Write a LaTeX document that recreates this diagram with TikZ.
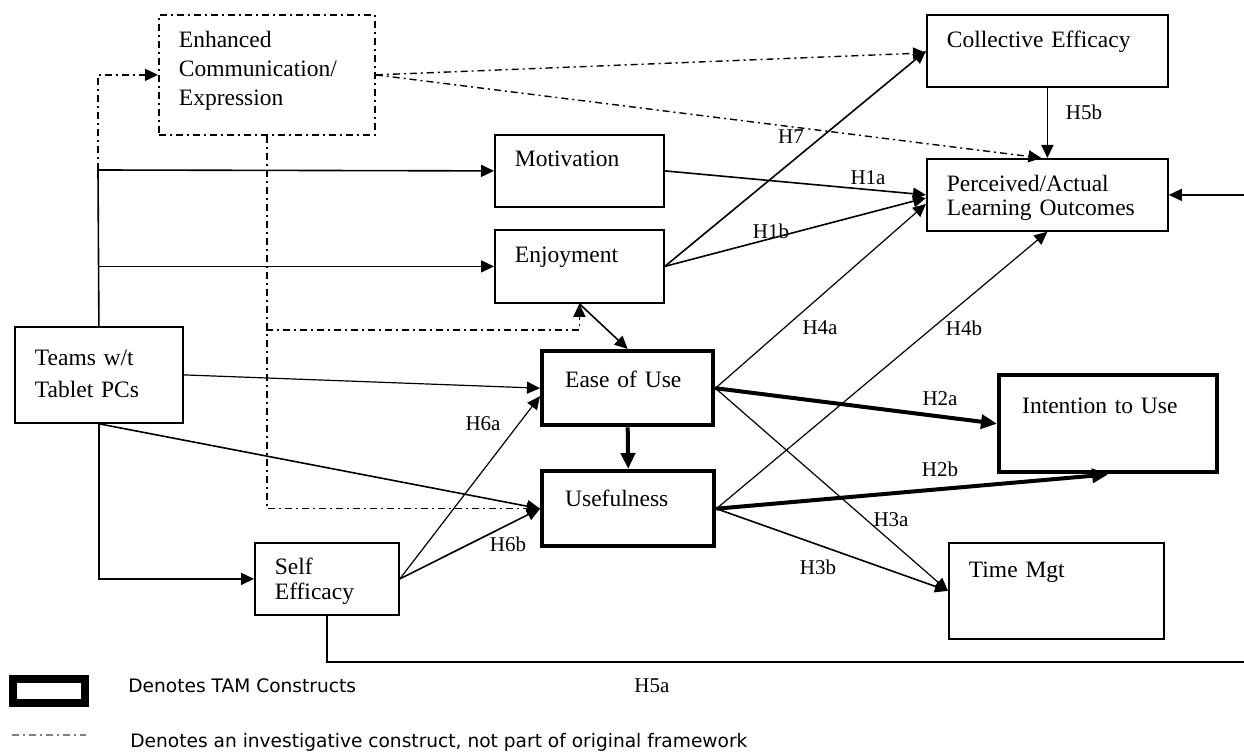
\documentclass[tikz,border=0pt]{standalone}
\usepackage{fontspec}
\setmainfont{Liberation Serif}
\newfontfamily\legfont{DejaVu Sans}
\usetikzlibrary{arrows.meta}
\tikzset{
  blk/.style={draw, line width=0.9pt, rectangle, anchor=north west, inner xsep=10pt, inner ysep=0pt, align=left, font=\fontsize{11.75}{14}\selectfont},
  tam/.style={blk, line width=2.2pt, inner xsep=11.5pt},
  inv/.style={blk, dash pattern=on 3.5pt off 2pt on 1pt off 2pt},
  hyp/.style={font=\fontsize{10.5}{12}\selectfont, inner sep=0pt},
  leg/.style={font=\legfont\fontsize{9.3}{11}\selectfont, inner sep=0pt, anchor=base west},
  tip/.style={-{Triangle[length=6.5pt,width=6pt]}},
  arr/.style={line width=0.8pt, tip},
  lean/.style={line width=0.6pt, tip},
  fat/.style={line width=2pt, -{Triangle[length=8pt,width=7pt]}},
  dd/.style={line width=0.7pt, dash pattern=on 3.5pt off 2pt on 1pt off 2pt},
}
\begin{document}
\begin{tikzpicture}[x=0.5pt, y=-0.5pt]
\useasboundingbox (0,0) rectangle (1244,753);
\node[inv, text width=88pt, text height=16.5pt, text depth=43.5pt, font=\fontsize{11.75}{14.5}\selectfont] (enh) at (158,14) {Enhanced\\Communication/\\Expression};
\node[blk, text width=100.5pt, text height=16.5pt, text depth=19.5pt] (col) at (926,14) {Collective Efficacy};
\node[blk, text width=100.5pt, text height=16.5pt, text depth=19.5pt, font=\fontsize{11.75}{12}\selectfont] (per) at (926,158) {Perceived/Actual\\Learning Outcomes};
\node[blk, text width=64.5pt, text height=16pt, text depth=20pt] (mot) at (494,134) {Motivation};
\node[blk, text width=64.5pt, text height=16.5pt, text depth=20pt] (enj) at (494,229) {Enjoyment};
\node[blk, text width=64pt, text height=19.5pt, text depth=28.5pt, font=\fontsize{11.75}{16}\selectfont] (teams) at (14,326) {Teams w/t\\Tablet PCs};
\node[tam, text width=62.5pt, text height=18pt, text depth=19pt] (ease) at (540,349) {Ease of Use};
\node[tam, text width=63pt, text height=17.5pt, text depth=20pt] (use) at (540,469) {Usefulness};
\node[tam, text width=86pt, text height=19pt, text depth=29.5pt] (int) at (997,373) {Intention to Use};
\node[blk, text width=52pt, text height=16pt, text depth=20pt, font=\fontsize{11.75}{12.5}\selectfont] (self) at (254,542) {Self\\Efficacy};
\node[blk, text width=87.5pt, text height=17.5pt, text depth=30.5pt] (time) at (948,542) {Time Mgt};
\coordinate (jn) at (98,170);
\coordinate (jd) at (266,330);
\coordinate (rt) at (1252,662);
\draw[dd, tip] (jn) |- (enh.west);
\draw[line width=0.8pt] (jn) -- (teams.north);
\draw[arr] (teams.south) |- (self.west);
\draw[arr] (jn) -- (mot.west);
\draw[arr] (jn |- enj.west) -- (enj.west);
\draw[dd, tip] (enh.east) -- ([yshift=-1pt]col.west);
\draw[dd, tip] (enh.east) -- ([xshift=-3pt]per.north);
\draw[dd, tip] (enh.south) |- (use.west);
\draw[dd, tip] (jd) -| (enj.south);
\draw[arr] (col.south) -- (per.north);
\draw[arr] (mot.east) -- (per.west);
\draw[arr] (enj.east) -- ([yshift=-1.5pt]per.west);
\draw[arr] (enj.east) -- (col.west);
\draw[arr] (enj.south) -- (ease.north);
\draw[lean] (teams.east) -- (ease.west);
\draw[arr] (teams.south) -- (use.west);
\draw[lean] (self.east) -- ([yshift=-4pt]ease.west);
\draw[arr] (self.east) -- (use.west);
\draw[fat] (ease.south) -- (use.north);
\draw[fat] (ease.east) -- (int.west);
\draw[fat] (use.east) -- (int.south);
\draw[lean] (ease.east) -- ([yshift=-4.5pt]per.west);
\draw[lean] (use.east) -- (per.south);
\draw[lean] (ease.east) -- (time.west);
\draw[arr] (use.east) -- (time.west);
\draw[arr] (self.south) -- (self.south |- rt) -- (rt) |- (per.east);
\node[hyp] (h7) at (791,137) {H7};
\node[hyp] (h1a) at (868,178) {H1a};
\node[hyp] (h1b) at (771,231) {H1b};
\node[hyp] (h5b) at (1084,112) {H5b};
\node[hyp] (h4a) at (820,328) {H4a};
\node[hyp] (h4b) at (964,328) {H4b};
\node[hyp] (h2a) at (940,399) {H2a};
\node[hyp] (h2b) at (940,469) {H2b};
\node[hyp] (h3a) at (891,520) {H3a};
\node[hyp] (h3b) at (818,567) {H3b};
\node[hyp] (h6a) at (483,424) {H6a};
\node[hyp] (h6b) at (508,544) {H6b};
\node[hyp, anchor=base west] (h5a) at (634,693) {H5a};
\node[draw, line width=4pt, minimum width=36pt, minimum height=12pt, inner sep=0pt] (keytam) at (49,691) {};
\coordinate (kd1) at (12,735);
\coordinate (kd2) at (86,735);
\draw[dd, draw=gray] (kd1) -- (kd2);
\node[leg] (legtam) at (128,693) {Denotes TAM Constructs};
\node[leg] (leginv) at (130,748) {Denotes an investigative construct, not part of original framework};
\end{tikzpicture}
\end{document}
